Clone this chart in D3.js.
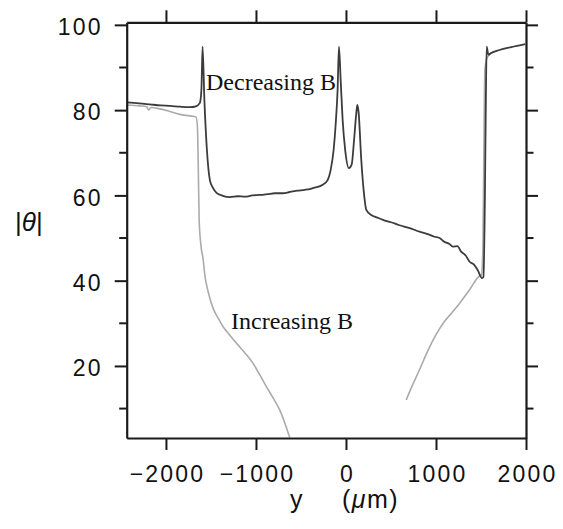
<!DOCTYPE html>
<html>

<head>
	<meta charset="utf-8">
	<title>theta vs y</title>
	<script type="text/javascript" src="https://cdn.jsdelivr.net/npm/d3@7/dist/d3.min.js"></script>
	<style>
		body { margin: 0; background: #fff; }
		svg text { fill: #111; }
	</style>
</head>

<body>
	<div id="chart"></div>

	<script type="text/javascript">
		// data: y in um, |theta| in degrees
		var decY = [-2436, -2300, -2178, -2060, -1956, -1840, -1734, -1667, -1623, -1606, -1593, -1573, -1545, -1512, -1479, -1438,
			-1368, -1290, -1200, -1124, -1040, -958, -870, -791, -700, -625, -540, -459, -400, -348, -259, -204, -170, -137, -115, -93, -78,
			-59, -37, -9, 33, 63, 90, 113, 126, 140, 170, 196, 226, 281, 350, 410, 500, 595, 700, 817, 900, 983, 1040, 1094, 1150, 1186,
			1238, 1279, 1330, 1371, 1420, 1463, 1512, 1527, 1543, 1554, 1563, 1582, 1612, 1704, 1837, 1992];
		var decTheta = [81.8, 81.6, 81.35, 81.1, 81.0, 80.8, 80.7, 80.9, 81.7, 84.8, 94.9, 82.4, 70.7, 63.6, 61.8, 60.6,
			59.9, 59.6, 59.8, 59.7, 60.0, 60.1, 60.3, 60.5, 60.5, 60.8, 61.1, 61.3, 61.5, 61.8, 62.5, 63.6, 66.0, 70.7, 76.5, 84.8, 94.9,
			87.1, 77.7, 70.7, 66.4, 67.2, 73.0, 78.9, 81.2, 79.6, 68.3, 61.3, 56.6, 55.4, 54.8, 54.25, 53.7, 53.0, 52.4, 51.5, 51.0, 50.3, 50.0, 49.1, 48.6, 48.0,
			48.1, 46.8, 45.9, 44.5, 43.8, 42.5, 40.6, 40.9, 58.9, 82.4, 94.9, 93.0, 93.4, 94.1, 94.8, 95.5];

		var incLeftY = [-2436, -2289, -2214, -2194, -2166, -2067, -1956, -1845, -1734, -1667, -1651, -1642, -1631, -1612, -1586, -1568,
			-1531, -1476, -1420, -1365, -1290, -1216, -1120, -1032, -960, -883, -810, -736, -625];
		var incLeftTheta = [81.2, 81.0, 80.8, 80.05, 80.6, 80.3, 79.7, 79.0, 78.65, 78.4, 76.5, 68.3, 54.25, 48.4, 44.9, 41.35,
			37.4, 33.5, 31.2, 29.2, 27.2, 25.3, 23.0, 20.6, 18.0, 15.1, 12.5, 9.7, 3.2];

		var incRightY = [669, 739, 817, 910, 1002, 1090, 1186, 1280, 1371, 1482, 1504, 1521, 1532, 1543, 1560, 1593, 1649];
		var incRightTheta = [12.0, 15.5, 19.1, 23.6, 27.4, 30.3, 32.7, 35.2, 37.8, 41.1, 41.35, 47.2, 70.7, 89.4, 91.8, 93.0, 93.7];

		var xTicks = [-2000, -1000, 0, 1000, 2000];
		var yTicks = [20, 40, 60, 80, 100];
		var yMinorTicks = [10, 30, 50, 70, 90];

		var width = 563;
		var height = 529;
		var margin = { top: 22.3, right: 37, bottom: 91, left: 126.7 };

		var svg = d3.select("#chart").append("svg")
			.attr("width", width)
			.attr("height", height);

		var xScale = d3.scaleLinear().domain([-2436, 2000]).range([margin.left, width - margin.right]);
		var yScale = d3.scaleLinear().domain([3.1, 100.6]).range([height - margin.bottom, margin.top]);

		var tickFont = "Liberation Sans, Arial, sans-serif";

		// clip the curves to the frame
		svg.append("clipPath").attr("id", "plotClip")
			.append("rect")
			.attr("x", margin.left).attr("y", margin.top)
			.attr("width", width - margin.right - margin.left)
			.attr("height", height - margin.bottom - margin.top);

		var line = d3.line()
			.curve(d3.curveMonotoneX)
			.x(function (d) { return xScale(d[0]); })
			.y(function (d) { return yScale(d[1]); });

		function pairs(xs, ys) {
			return xs.map(function (v, i) { return [v, ys[i]]; });
		}

		var curves = svg.append("g").attr("clip-path", "url(#plotClip)");

		curves.append("path")
			.attr("d", line(pairs(incLeftY, incLeftTheta)))
			.attr("fill", "none").attr("stroke", "#ababab").attr("stroke-width", 1.6);
		curves.append("path")
			.attr("d", line(pairs(incRightY, incRightTheta)))
			.attr("fill", "none").attr("stroke", "#ababab").attr("stroke-width", 1.6);
		curves.append("path")
			.attr("d", line(pairs(decY, decTheta)))
			.attr("fill", "none").attr("stroke", "#3c3c3c").attr("stroke-width", 1.8)
			.attr("stroke-linejoin", "round");

		// axes: major ticks outward on all four sides, minor on left/right
		function styleAxis(g) {
			g.selectAll(".domain").attr("stroke", "#1a1a1a").attr("stroke-width", 2.2);
			g.selectAll(".tick line").attr("stroke", "#1a1a1a").attr("stroke-width", 2);
			g.selectAll("text")
				.attr("font-family", tickFont)
				.attr("font-size", 23)
				.attr("letter-spacing", 2.2)
				.attr("fill", "#000");
		}

		var fmt = function (d) { return d < 0 ? "\u2212" + Math.abs(d) : "" + d; };

		var gBottom = svg.append("g").attr("transform", "translate(0," + (height - margin.bottom) + ")")
			.call(d3.axisBottom(xScale).tickValues(xTicks).tickSize(12).tickSizeOuter(0).tickPadding(10).tickFormat(fmt));
		styleAxis(gBottom);
		gBottom.selectAll("text").attr("dy", "0.95em").attr("dx", 1);

		var gTop = svg.append("g").attr("transform", "translate(0," + margin.top + ")")
			.call(d3.axisTop(xScale).tickValues(xTicks).tickSize(12).tickSizeOuter(0).tickFormat(""));
		styleAxis(gTop);

		var gLeft = svg.append("g").attr("transform", "translate(" + margin.left + ",0)")
			.call(d3.axisLeft(yScale).tickValues(yTicks).tickSize(12).tickSizeOuter(0).tickPadding(12));
		styleAxis(gLeft);
		gLeft.selectAll("text").attr("dy", "0.42em");
		gLeft.append("g").selectAll("line").data(yMinorTicks).enter().append("line")
			.attr("x1", 0).attr("x2", -7.5)
			.attr("y1", function (d) { return yScale(d); })
			.attr("y2", function (d) { return yScale(d); })
			.attr("stroke", "#1a1a1a").attr("stroke-width", 2);

		var gRight = svg.append("g").attr("transform", "translate(" + (width - margin.right) + ",0)")
			.call(d3.axisRight(yScale).tickValues(yTicks).tickSize(12).tickSizeOuter(0).tickFormat(""));
		styleAxis(gRight);
		gRight.append("g").selectAll("line").data(yMinorTicks).enter().append("line")
			.attr("x1", 0).attr("x2", 7.5)
			.attr("y1", function (d) { return yScale(d); })
			.attr("y2", function (d) { return yScale(d); })
			.attr("stroke", "#1a1a1a").attr("stroke-width", 2);

		// axis titles
		svg.append("text")
			.attr("x", 290).attr("y", 508)
			.attr("font-family", tickFont).attr("font-size", 25).attr("letter-spacing", 1.5)
			.text("y");
		var unit = svg.append("text")
			.attr("x", 342).attr("y", 508)
			.attr("font-family", tickFont).attr("font-size", 25).attr("letter-spacing", 1.5);
		unit.append("tspan").text("(");
		unit.append("tspan").attr("font-style", "italic").text("\u03bc");
		unit.append("tspan").text("m)");

		var ylab = svg.append("text")
			.attr("x", 15).attr("y", 231)
			.attr("font-family", tickFont).attr("font-size", 26);
		ylab.append("tspan").text("|");
		ylab.append("tspan").attr("font-style", "italic").text("\u03b8");
		ylab.append("tspan").text("|");

		// curve labels
		svg.append("text")
			.attr("x", 206).attr("y", 90)
			.attr("font-family", "Liberation Serif, Times New Roman, serif").attr("font-size", 24)
			.text("Decreasing B");
		svg.append("text")
			.attr("x", 231).attr("y", 329)
			.attr("font-family", "Liberation Serif, Times New Roman, serif").attr("font-size", 24)
			.text("Increasing B");
	</script>

</body>

</html>
